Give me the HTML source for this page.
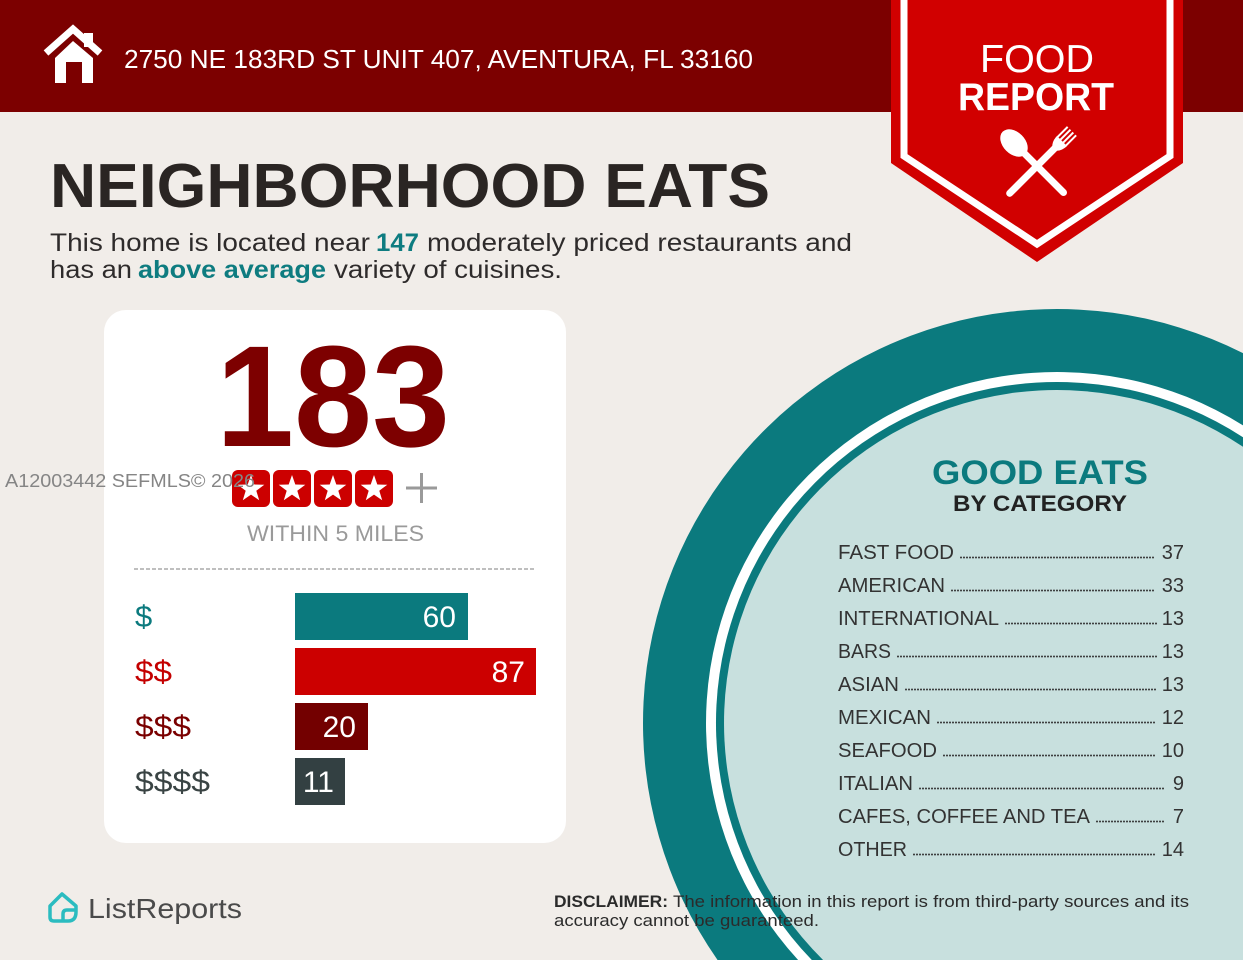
<!DOCTYPE html>
<html><head><meta charset="utf-8"><style>
html,body{margin:0;padding:0;background:#f1ede9;width:1243px;height:960px;overflow:hidden;}
svg{display:block;}
text{font-family:"Liberation Sans",sans-serif;}
</style></head><body>
<svg width="1243" height="960" viewBox="0 0 1243 960" xmlns="http://www.w3.org/2000/svg">
<rect x="0" y="0" width="1243" height="960" fill="#f1ede9"/>
<!-- header -->
<rect x="0" y="0" width="1243" height="112" fill="#7c0000"/>
<!-- house icon -->
<polyline points="46,53 73,29 100,53" fill="none" stroke="#fff" stroke-width="7" stroke-linejoin="miter"/>
<rect x="84" y="33" width="9" height="14" fill="#fff"/>
<polygon points="55,83 55,58 73,41 93,58 93,83" fill="#fff"/>
<rect x="66" y="62" width="16" height="22" fill="#7c0000"/>
<text x="124" y="68" font-size="26" fill="#fff" textLength="629" lengthAdjust="spacingAndGlyphs">2750 NE 183RD ST UNIT 407, AVENTURA, FL 33160</text>

<!-- banner -->
<polygon points="891,0 1183,0 1183,163 1037,262 891,163" fill="#d10000"/>
<polyline points="904,0 904,156 1037,244 1170,156 1170,0" fill="none" stroke="#fff" stroke-width="7"/>
<text x="1037" y="72" font-size="39" fill="#fff" text-anchor="middle" textLength="114" lengthAdjust="spacingAndGlyphs">FOOD</text>
<text x="1036" y="110" font-size="39" fill="#fff" font-weight="bold" text-anchor="middle" textLength="156" lengthAdjust="spacingAndGlyphs">REPORT</text>
<!-- spoon -->
<g transform="translate(1014,143) rotate(-45)">
<ellipse cx="0" cy="0" rx="11" ry="16" fill="#fff"/>
<line x1="0" y1="10" x2="0" y2="70" stroke="#fff" stroke-width="7" stroke-linecap="round"/>
</g>
<!-- fork -->
<g transform="translate(1062,141) rotate(45)">
<line x1="-6" y1="-14" x2="-6" y2="2" stroke="#fff" stroke-width="2"/>
<line x1="-2" y1="-14" x2="-2" y2="2" stroke="#fff" stroke-width="2"/>
<line x1="2" y1="-14" x2="2" y2="2" stroke="#fff" stroke-width="2"/>
<line x1="6" y1="-14" x2="6" y2="2" stroke="#fff" stroke-width="2"/>
<path d="M-7,0 L7,0 Q7,9 0,13 Q-7,9 -7,0 Z" fill="#fff"/>
<line x1="0" y1="10" x2="0" y2="74" stroke="#fff" stroke-width="7" stroke-linecap="round"/>
</g>

<!-- title -->
<text x="50" y="207" font-size="62" font-weight="bold" fill="#2a2523" textLength="720" lengthAdjust="spacingAndGlyphs">NEIGHBORHOOD EATS</text>
<text x="50" y="251" font-size="25" fill="#2e2b2b" textLength="320" lengthAdjust="spacingAndGlyphs">This home is located near</text>
<text x="376" y="251" font-size="25" font-weight="bold" fill="#0e7c80" textLength="43" lengthAdjust="spacingAndGlyphs">147</text>
<text x="427" y="251" font-size="25" fill="#2e2b2b" textLength="425" lengthAdjust="spacingAndGlyphs">moderately priced restaurants and</text>
<text x="50" y="278" font-size="25" fill="#2e2b2b" textLength="82" lengthAdjust="spacingAndGlyphs">has an</text>
<text x="138" y="278" font-size="25" font-weight="bold" fill="#0e7c80" textLength="188" lengthAdjust="spacingAndGlyphs">above average</text>
<text x="334" y="278" font-size="25" fill="#2e2b2b" textLength="228" lengthAdjust="spacingAndGlyphs">variety of cuisines.</text>

<!-- card -->
<rect x="104" y="310" width="462" height="533" rx="22" ry="22" fill="#ffffff"/>
<text x="216" y="446" font-size="144" font-weight="bold" fill="#7d0000" textLength="234" lengthAdjust="spacingAndGlyphs">183</text>
<g fill="#cc0000">
<rect x="232" y="470" width="38" height="37" rx="6"/>
<rect x="273" y="470" width="38" height="37" rx="6"/>
<rect x="314" y="470" width="38" height="37" rx="6"/>
<rect x="355" y="470" width="38" height="37" rx="6"/>
</g>
<g fill="#fff">
<polygon transform="translate(251,489)" points="0,-14 3.3,-4.5 13.3,-4.3 5.3,1.7 8.2,11.3 0,5.6 -8.2,11.3 -5.3,1.7 -13.3,-4.3 -3.3,-4.5"/>
<polygon transform="translate(292,489)" points="0,-14 3.3,-4.5 13.3,-4.3 5.3,1.7 8.2,11.3 0,5.6 -8.2,11.3 -5.3,1.7 -13.3,-4.3 -3.3,-4.5"/>
<polygon transform="translate(333,489)" points="0,-14 3.3,-4.5 13.3,-4.3 5.3,1.7 8.2,11.3 0,5.6 -8.2,11.3 -5.3,1.7 -13.3,-4.3 -3.3,-4.5"/>
<polygon transform="translate(374,489)" points="0,-14 3.3,-4.5 13.3,-4.3 5.3,1.7 8.2,11.3 0,5.6 -8.2,11.3 -5.3,1.7 -13.3,-4.3 -3.3,-4.5"/>
</g>
<line x1="406" y1="488" x2="437" y2="488" stroke="#9a9a9a" stroke-width="3"/>
<line x1="421.5" y1="473" x2="421.5" y2="503" stroke="#9a9a9a" stroke-width="3"/>
<text x="5" y="487" font-size="18" fill="#858585" textLength="250" lengthAdjust="spacingAndGlyphs">A12003442  SEFMLS© 2026</text>
<text x="247" y="541" font-size="22" fill="#9a9a9a" textLength="177" lengthAdjust="spacingAndGlyphs">WITHIN 5 MILES</text>
<line x1="134" y1="569" x2="536" y2="569" stroke="#aaaaaa" stroke-width="1.5" stroke-dasharray="4 2"/>

<!-- bars -->
<rect x="295" y="593" width="173" height="47" fill="#0b7a7e"/>
<rect x="295" y="648" width="241" height="47" fill="#cc0000"/>
<rect x="295" y="703" width="73" height="47" fill="#730000"/>
<rect x="295" y="758" width="50" height="47" fill="#334042"/>
<text x="135" y="627" font-size="31" fill="#0b7a7e">$</text>
<text x="135" y="682" font-size="31" fill="#c40000" textLength="37" lengthAdjust="spacingAndGlyphs">$$</text>
<text x="135" y="737" font-size="31" fill="#7a0000" textLength="56" lengthAdjust="spacingAndGlyphs">$$$</text>
<text x="135" y="792" font-size="31" fill="#3a4444" textLength="75" lengthAdjust="spacingAndGlyphs">$$$$</text>
<text x="456" y="627" font-size="30" fill="#fff" text-anchor="end">60</text>
<text x="525" y="682" font-size="30" fill="#fff" text-anchor="end">87</text>
<text x="356" y="737" font-size="30" fill="#fff" text-anchor="end">20</text>
<text x="334" y="792" font-size="30" fill="#fff" text-anchor="end">11</text>

<!-- circle (clipped to frame as paths) -->
<path d="M717.55,960 A414,414 0 0 1 1243,353.14 L1243,960 Z" fill="#0b7a7e"/>
<path d="M798.1,960 A351,351 0 0 1 1243,425.33 L1243,960 Z" fill="#ffffff"/>
<path d="M811.82,960 A341,341 0 0 1 1243,437.19 L1243,960 Z" fill="#0b7a7e"/>
<path d="M823.08,960 A333,333 0 0 1 1243,446.79 L1243,960 Z" fill="#c8e0de"/>

<text x="1040" y="484" font-size="34" font-weight="bold" fill="#0b7a7e" text-anchor="middle" textLength="216" lengthAdjust="spacingAndGlyphs">GOOD EATS</text>
<text x="1040" y="511" font-size="22" font-weight="bold" fill="#222" text-anchor="middle" textLength="174" lengthAdjust="spacingAndGlyphs">BY CATEGORY</text>

<g font-size="20" fill="#333">
<text x="838" y="559" textLength="116" lengthAdjust="spacingAndGlyphs">FAST FOOD</text>
<text x="838" y="592" textLength="107" lengthAdjust="spacingAndGlyphs">AMERICAN</text>
<text x="838" y="625" textLength="161" lengthAdjust="spacingAndGlyphs">INTERNATIONAL</text>
<text x="838" y="658" textLength="53" lengthAdjust="spacingAndGlyphs">BARS</text>
<text x="838" y="691" textLength="61" lengthAdjust="spacingAndGlyphs">ASIAN</text>
<text x="838" y="724" textLength="93" lengthAdjust="spacingAndGlyphs">MEXICAN</text>
<text x="838" y="757" textLength="99" lengthAdjust="spacingAndGlyphs">SEAFOOD</text>
<text x="838" y="790" textLength="75" lengthAdjust="spacingAndGlyphs">ITALIAN</text>
<text x="838" y="823" textLength="252" lengthAdjust="spacingAndGlyphs">CAFES, COFFEE AND TEA</text>
<text x="838" y="856" textLength="69" lengthAdjust="spacingAndGlyphs">OTHER</text>
</g>
<g font-size="20" fill="#333" text-anchor="end">
<text x="1184" y="559">37</text>
<text x="1184" y="592">33</text>
<text x="1184" y="625">13</text>
<text x="1184" y="658">13</text>
<text x="1184" y="691">13</text>
<text x="1184" y="724">12</text>
<text x="1184" y="757">10</text>
<text x="1184" y="790">9</text>
<text x="1184" y="823">7</text>
<text x="1184" y="856">14</text>
</g>
<g stroke="#333" stroke-width="2" stroke-linecap="round" stroke-dasharray="0 3">
<line x1="961" y1="557.5" x2="1155" y2="557.5"/>
<line x1="952" y1="590.5" x2="1155" y2="590.5"/>
<line x1="1006" y1="623.5" x2="1157" y2="623.5"/>
<line x1="898" y1="656.5" x2="1157" y2="656.5"/>
<line x1="906" y1="689.5" x2="1157" y2="689.5"/>
<line x1="938" y1="722.5" x2="1156" y2="722.5"/>
<line x1="944" y1="755.5" x2="1155" y2="755.5"/>
<line x1="920" y1="788.5" x2="1164" y2="788.5"/>
<line x1="1097" y1="821.5" x2="1166" y2="821.5"/>
<line x1="914" y1="854.5" x2="1157" y2="854.5"/>
</g>

<!-- disclaimer -->
<text x="554" y="907" font-size="17" font-weight="bold" fill="#2b2b2b" textLength="114" lengthAdjust="spacingAndGlyphs">DISCLAIMER:</text>
<text x="673" y="907" font-size="17" fill="#2b2b2b" textLength="516" lengthAdjust="spacingAndGlyphs">The information in this report is from third-party sources and its</text>
<text x="554" y="926" font-size="17" fill="#2b2b2b" textLength="265" lengthAdjust="spacingAndGlyphs">accuracy cannot be guaranteed.</text>

<!-- ListReports logo -->
<path d="M62,894 L76,906 L76,912 Q76,921 68,921 L54,921 Q50,921 50,917 L50,906 Z" fill="none" stroke="#2bbcc0" stroke-width="3.5" stroke-linejoin="round"/>
<path d="M63,921 L63,914 Q63,910 67,910 L76,910" fill="none" stroke="#2bbcc0" stroke-width="3.5" stroke-linejoin="round"/>
<text x="88" y="918" font-size="28" fill="#4a4a4a" textLength="154" lengthAdjust="spacingAndGlyphs">ListReports</text>
</svg>
</body></html>
